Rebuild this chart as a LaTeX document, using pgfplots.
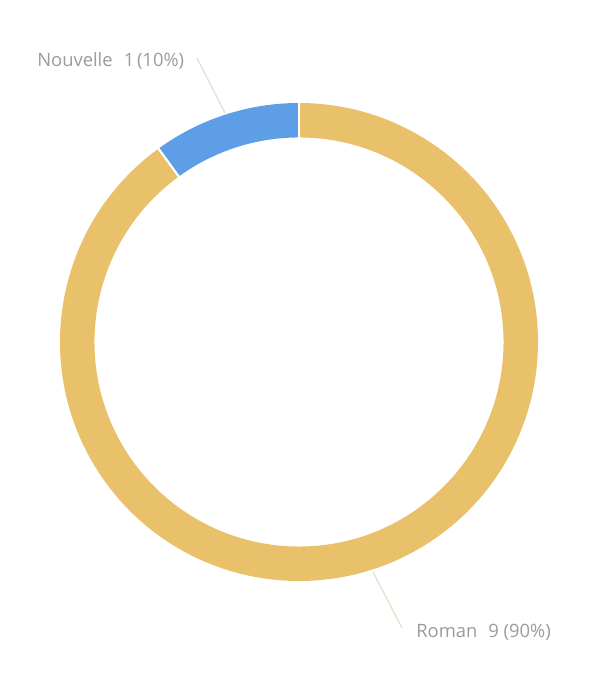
\documentclass[border=0pt]{standalone}
\usepackage{pgfplots}
\pgfplotsset{compat=1.18}
\usepackage{pgfplotstable}
\usepackage{fontspec}
\setmainfont{Open Sans}
\definecolor{nouvelle}{RGB}{94,158,230}
\definecolor{roman}{RGB}{233,193,107}
\definecolor{lbl}{RGB}{158,155,150}
\definecolor{leader}{RGB}{230,222,205}

% genre count
\pgfplotstableread{
name value
Nouvelle 1
Roman 9
}\genres
\pgfplotstablegetelem{0}{value}\of\genres \let\va\pgfplotsretval
\pgfplotstablegetelem{1}{value}\of\genres \let\vb\pgfplotsretval
\pgfmathsetmacro\tot{\va+\vb}
\pgfmathsetmacro\aA{90+360*\va/\tot}
\pgfmathsetmacro\aB{\aA+360*\vb/\tot}
\def\Ro{179.25pt}
\def\Ri{153.4pt}

\begin{document}
\begin{tikzpicture}
\begin{axis}[
    x=0.75pt, y=0.75pt,
    xmin=0, xmax=601, ymin=0, ymax=675,
    hide axis,
    clip=false,
    ]
    % ring segments
    \fill[nouvelle] ([shift={(90:\Ro)}]axis cs:299,333)
        arc[start angle=90, end angle=\aA, radius=\Ro]
        -- ([shift={(\aA:\Ri)}]axis cs:299,333)
        arc[start angle=\aA, end angle=90, radius=\Ri] -- cycle;
    \fill[roman] ([shift={(\aA:\Ro)}]axis cs:299,333)
        arc[start angle=\aA, end angle=\aB, radius=\Ro]
        -- ([shift={(\aB:\Ri)}]axis cs:299,333)
        arc[start angle=\aB, end angle=\aA, radius=\Ri] -- cycle;
    \draw[white, line width=1.6pt] ([shift={(90:\Ri-1pt)}]axis cs:299,333) -- ([shift={(90:\Ro+1pt)}]axis cs:299,333);
    \draw[white, line width=1.6pt] ([shift={(\aA:\Ri-1pt)}]axis cs:299,333) -- ([shift={(\aA:\Ro+1pt)}]axis cs:299,333);
    % leaders
    \draw[leader, line width=0.9pt] (axis cs:197,617) -- (axis cs:225,562);
    \draw[leader, line width=0.9pt] (axis cs:373,103) -- (axis cs:402,47);
    % labels
    \node[anchor=base west, inner sep=0pt, text=lbl, font=\fontsize{13.8pt}{16pt}\selectfont]
        at (axis cs:37,608) {Nouvelle\hspace{0.6em}1\hspace{0.15em}(10\%)};
    \node[anchor=base west, inner sep=0pt, text=lbl, font=\fontsize{13.8pt}{16pt}\selectfont]
        at (axis cs:416,37) {Roman\hspace{0.6em}9 (90\%)};
\end{axis}
\pgfresetboundingbox
\useasboundingbox (current axis.south west) rectangle (current axis.north east);
\end{tikzpicture}
\end{document}
